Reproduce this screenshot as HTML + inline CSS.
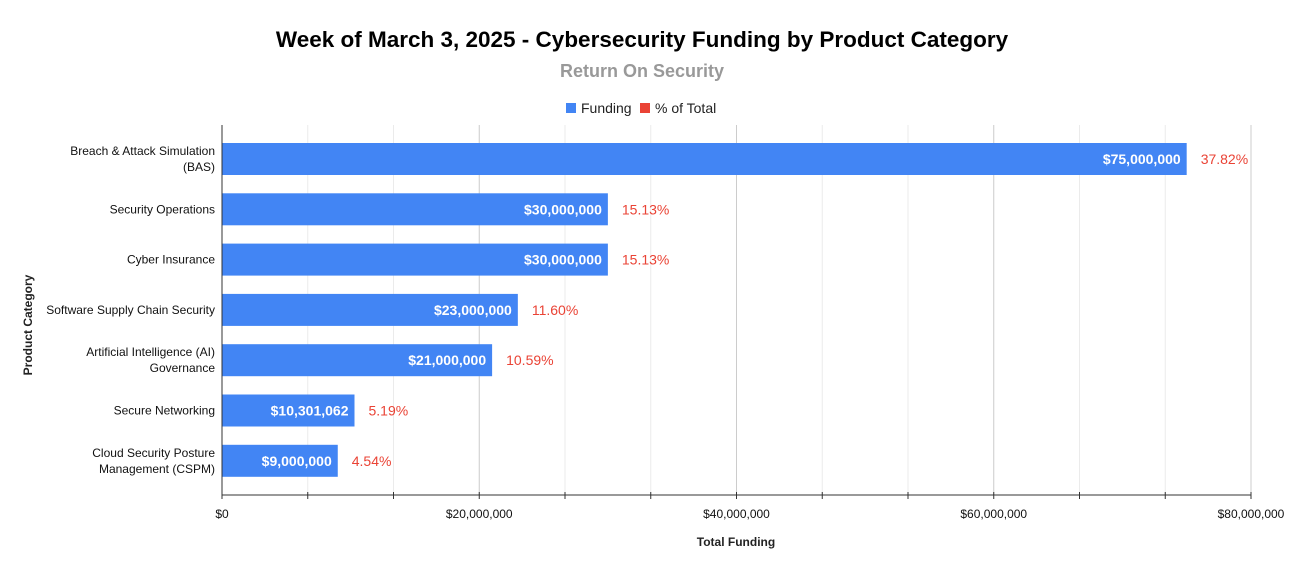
<!DOCTYPE html>
<html><head><meta charset="utf-8"><style>
body{margin:0;background:#fff;font-family:"Liberation Sans",Arial,sans-serif}
svg text{font-family:"Liberation Sans",Arial,sans-serif}
</style></head><body>
<svg width="1292" height="575" xmlns="http://www.w3.org/2000/svg">
<rect width="1292" height="575" fill="#fff"/>
<text x="642" y="47" text-anchor="middle" font-size="22.5" font-weight="bold" fill="#000">Week of March 3, 2025 - Cybersecurity Funding by Product Category</text>
<text x="642" y="77" text-anchor="middle" font-size="18" font-weight="bold" fill="#999">Return On Security</text>
<g>
<rect x="566" y="103" width="10" height="10" fill="#4285f4"/>
<text x="581" y="113" font-size="14" fill="#222">Funding</text>
<rect x="640" y="103" width="10" height="10" fill="#ea4335"/>
<text x="655" y="113" font-size="14" fill="#222">% of Total</text>
</g>
<g id="grid"></g><g id="bars"></g><g id="axes"></g>
<text x="736" y="546" text-anchor="middle" font-size="12" font-weight="bold" fill="#222">Total Funding</text>
<text transform="translate(32,325) rotate(-90)" text-anchor="middle" font-size="12" font-weight="bold" fill="#222">Product Category</text>
</svg>
<script>
const categories=[["Breach & Attack Simulation","(BAS)"],["Security Operations"],["Cyber Insurance"],["Software Supply Chain Security"],["Artificial Intelligence (AI)","Governance"],["Secure Networking"],["Cloud Security Posture","Management (CSPM)"]];
const funding=[75000000,30000000,30000000,23000000,21000000,10301062,9000000];
const percents=["37.82%","15.13%","15.13%","11.60%","10.59%","5.19%","4.54%"];
const tickValues=[0,20000000,40000000,60000000,80000000];
const tickLabels=["$0","$20,000,000","$40,000,000","$60,000,000","$80,000,000"];
const NS="http://www.w3.org/2000/svg";
const X0=222,X1=1251,MAX=80000000,TOP=125,BASE=495;
const xs=v=>X0+(X1-X0)*v/MAX;
const ys=i=>159+i*50.3;
function mk(tag,attrs,parent,text){const e=document.createElementNS(NS,tag);for(const k in attrs)e.setAttribute(k,attrs[k]);if(text!==undefined)e.textContent=text;parent.appendChild(e);return e;}
const grid=document.getElementById('grid'),bars=document.getElementById('bars'),axes=document.getElementById('axes');
for(let k=1;k<=12;k++){const v=MAX*k/12;const major=k%3===0;
const l=mk('line',{x1:xs(v),x2:xs(v),y1:TOP,y2:BASE,stroke:major?'#ccc':'#ebebeb','stroke-width':1},grid);


const t=mk('line',{x1:xs(v),x2:xs(v),y1:BASE-3,y2:BASE+4,stroke:'#333','stroke-width':1},axes);

}
const fmt=v=>'$'+v.toLocaleString('en-US');
funding.forEach((v,i)=>{const y=ys(i);
const r=mk('rect',{x:X0,y:y-16,width:xs(v)-X0,height:32,fill:'#4285f4'},bars);


const vl=mk('text',{x:xs(v)-6,y:y+5,'text-anchor':'end','font-size':14,'font-weight':'bold',fill:'#fff'},bars,fmt(v));


const pl=mk('text',{x:xs(v)+14,y:y+5,'font-size':14,fill:'#ea4335'},bars,percents[i]);


const lines=categories[i];
lines.forEach((s,j)=>{const cy=y+4+(j-(lines.length-1)/2)*16;
const c=mk('text',{x:215,y:cy,'text-anchor':'end','font-size':12,fill:'#111'},axes,s);

});
});
const ya=mk('line',{x1:X0,x2:X0,y1:TOP,y2:BASE+4,stroke:'#333','stroke-width':1},axes);


const xa=mk('line',{x1:X0,x2:X1,y1:BASE,y2:BASE,stroke:'#333','stroke-width':1},axes);


tickValues.forEach((v,i)=>{const t=mk('text',{x:xs(v),y:518,'text-anchor':'middle','font-size':12,fill:'#111'},axes,tickLabels[i]);

});
</script>
</body></html>
